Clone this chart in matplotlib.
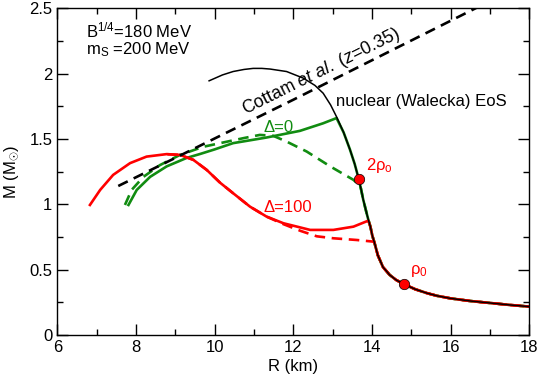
"""Mass-radius curves for hybrid stars vs the nuclear (Walecka) EoS."""

import matplotlib

matplotlib.use("Agg")
import matplotlib.pyplot as plt
from matplotlib.ticker import FuncFormatter, MultipleLocator

plt.rcParams["font.family"] = ["Liberation Sans", "DejaVu Sans"]
plt.rcParams["mathtext.fontset"] = "custom"
plt.rcParams["mathtext.rm"] = "Liberation Sans"
plt.rcParams["mathtext.it"] = "Liberation Sans:italic"
plt.rcParams["mathtext.bf"] = "Liberation Sans:bold"

RED = "#ff0000"
GREEN = "#118c11"

# nuclear (Walecka) EoS branch
nuc_r = [9.86, 10.2, 10.47, 10.75, 10.98, 11.2, 11.41, 11.83, 12.25, 12.55,
         12.76, 12.95, 13.10, 13.28, 13.44, 13.56, 13.65, 13.72, 13.78, 13.85,
         13.91, 13.96, 14.01, 14.07, 14.15, 14.28, 14.45, 14.62, 14.81, 15.1,
         15.4, 15.65, 16.0, 16.5, 17.0, 17.5, 18.0]
nuc_m = [1.945, 1.99, 2.016, 2.032, 2.04, 2.04, 2.035, 2.016, 1.966, 1.91,
         1.85, 1.76, 1.67, 1.55, 1.42, 1.31, 1.21, 1.12, 1.034, 0.95,
         0.88, 0.83, 0.76, 0.70, 0.61, 0.52, 0.46, 0.42, 0.39, 0.35,
         0.32, 0.30, 0.28, 0.26, 0.245, 0.23, 0.217]

# Delta = 0 hybrid branches
d0_r = [7.81, 8.02, 8.36, 8.78, 9.29, 9.63, 10.0, 10.47, 11.32, 12.17, 12.76, 13.10]
d0_m = [0.995, 1.11, 1.21, 1.29, 1.355, 1.385, 1.42, 1.468, 1.511, 1.562, 1.62, 1.66]
d0_dash_r = [7.72, 7.89, 8.19, 8.61, 9.12, 9.71, 10.14, 10.73, 11.15, 11.49,
             11.83, 12.34, 12.94, 13.53, 13.70]
d0_dash_m = [0.995, 1.11, 1.21, 1.30, 1.378, 1.44, 1.468, 1.506, 1.531, 1.524,
             1.48, 1.404, 1.29, 1.187, 1.14]

# Delta = 100 hybrid branches
d100_r = [6.83, 7.09, 7.42, 7.85, 8.27, 8.78, 9.12, 9.46, 9.8, 10.14, 10.47,
          10.9, 11.32, 11.75, 12.43, 13.02, 13.53, 13.91]
d100_m = [0.995, 1.11, 1.225, 1.315, 1.365, 1.384, 1.378, 1.34, 1.263, 1.165,
          1.085, 0.982, 0.906, 0.855, 0.804, 0.804, 0.829, 0.875]
d100_dash_r = [8.8, 9.12, 9.46, 9.8, 10.14, 10.47, 10.9, 11.32, 11.75, 12.2,
               12.6, 13.02, 13.61, 14.05]
d100_dash_m = [1.383, 1.378, 1.34, 1.263, 1.165, 1.085, 0.982, 0.906, 0.848, 0.795,
               0.755, 0.74, 0.727, 0.714]

# Cottam et al. (z=0.35) constraint
cottam_r = [7.55, 12.0, 16.7]
cottam_m = [1.14, 1.80, 2.51]

# density markers on the nuclear branch
dot_r = [13.68, 14.81]
dot_m = [1.194, 0.39]


def with_nuclear_tail(r, m):
    """Continue a hybrid branch down the nuclear curve below its junction."""
    tail = [(x, y) for x, y in zip(nuc_r, nuc_m) if y < m[-1] and x > r[-1]]
    return r + [p[0] for p in tail], m + [p[1] for p in tail]


fig = plt.figure(figsize=(5.4, 3.78), dpi=100)
ax = fig.add_axes([0.1061, 0.1138, 0.874, 0.8643])

lw = 1.9
ax.plot(*with_nuclear_tail(d0_r, d0_m), color=GREEN, lw=lw)
ax.plot(*with_nuclear_tail(d0_dash_r, d0_dash_m), color=GREEN, lw=lw, dashes=(4, 2.5))
ax.plot(*with_nuclear_tail(d100_r, d100_m), color=RED, lw=lw)
ax.plot(*with_nuclear_tail(d100_dash_r, d100_dash_m), color=RED, lw=lw, dashes=(4, 2.5))
ax.plot(nuc_r, nuc_m, color="black", lw=1.1)
ax.plot(cottam_r, cottam_m, color="black", lw=1.9, dashes=(4, 2.5))
ax.plot(dot_r, dot_m, "o", color=RED, markeredgecolor="black",
        markeredgewidth=0.5, markersize=7.5, zorder=5)

ax.text(6.73, 2.276, "B$^{1/4}$=180 MeV", fontsize=12)
ax.text(6.73, 2.149, "m$_{\\rm S}$ =200 MeV", fontsize=12)
ax.text(13.08, 1.753, "nuclear (Walecka) EoS", fontsize=12)
ax.text(11.24, 1.557, "\u0394=0", fontsize=12, color=GREEN)
ax.text(11.24, 0.944, "\u0394=100", fontsize=12, color=RED)
ax.text(13.85, 1.263, "2\u03c1$_{\\rm o}$", fontsize=12, color=RED)
ax.text(14.97, 0.467, "\u03c1$_{\\rm 0}$", fontsize=12, color=RED)
ax.text(10.77, 1.685, "Cottam $\\it{et\\ al.}$ ($\\it{z}$=0.35)", fontsize=12.7,
        rotation=26.5, rotation_mode="anchor", ha="left", va="baseline")

ax.set_xlim(6, 18)
ax.set_ylim(0, 2.5)
ax.xaxis.set_major_locator(MultipleLocator(2))
ax.xaxis.set_minor_locator(MultipleLocator(1))
ax.yaxis.set_major_locator(MultipleLocator(0.5))
ax.yaxis.set_minor_locator(MultipleLocator(0.25))
ax.yaxis.set_major_formatter(FuncFormatter(lambda v, _: f"{v:g}"))
ax.tick_params(which="both", direction="in", top=True, right=True,
               labelsize=12, width=1)
ax.tick_params(which="major", length=8)
ax.tick_params(which="minor", length=4)
for spine in ax.spines.values():
    spine.set_linewidth(1)

ax.set_xlabel("R (km)", fontsize=12, labelpad=3)
ax.set_ylabel("M (M$_{\\odot}$)", fontsize=12, labelpad=6)

fig.savefig("out.png", dpi=100)
